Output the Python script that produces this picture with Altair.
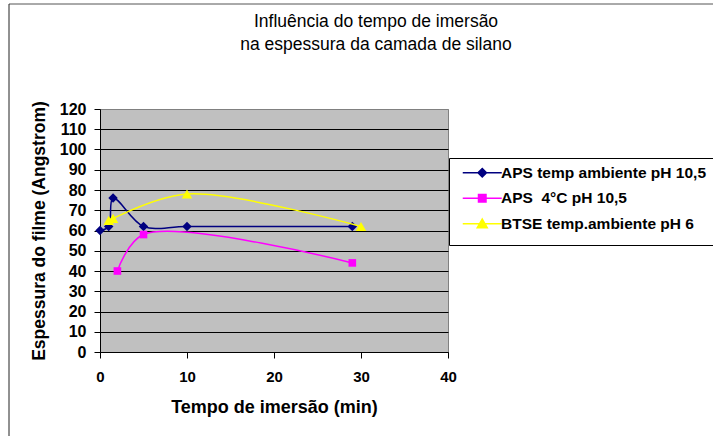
import altair as alt
import pandas as pd

# ---- data ----
series_names = ["APS temp ambiente pH 10,5", "APS\u00a0 4\u00b0C pH 10,5", "BTSE temp.ambiente pH 6"]

aps_amb_time = [0, 1, 1.5, 5, 10, 29]
aps_amb_thick = [60, 62, 76, 62, 62, 62]

aps_4c_time = [2, 5, 29]
aps_4c_thick = [40, 58, 44]

btse_time = [1, 1.5, 10, 30]
btse_thick = [65, 66, 78, 62]

x_ticks = [0, 10, 20, 30, 40]
y_ticks = list(range(0, 121, 10))

# ---- styling ----
colors = ["#000080", "#FF00FF", "#FFFF00"]
marker_shapes = ["diamond", "square", "triangle-up"]
marker_sizes = [90, 58, 110]
seg = "M-3.9,0H3.9"
legend_paths = [
    seg + "M0,-0.85L0.85,0L0,0.85L-0.85,0Z",
    seg + "M-0.75,-0.75H0.75V0.75H-0.75Z",
    seg + "M0,-0.95L1,0.8H-1Z",
]
FONT = "Liberation Sans"

rows = []
for name, xs, ys in [
    (series_names[0], aps_amb_time, aps_amb_thick),
    (series_names[1], aps_4c_time, aps_4c_thick),
    (series_names[2], btse_time, btse_thick),
]:
    for xv, yv in zip(xs, ys):
        rows.append({"time": xv, "thick": yv, "series": name})
df = pd.DataFrame(rows)

x_enc = alt.X(
    "time:Q",
    scale=alt.Scale(domain=[0, 40], nice=False, zero=False),
    axis=alt.Axis(
        values=x_ticks, title="Tempo de imersão (min)", grid=False,
        labelFont=FONT, labelFontSize=15, labelFontWeight="bold", labelColor="black",
        labelPadding=11, labelFlush=False, labelOverlap=False,
        tickSize=6, tickColor="black", domainColor="black",
        titleFont=FONT, titleFontSize=18, titleFontWeight="bold", titleColor="black",
        titlePadding=14,
    ),
)
y_enc = alt.Y(
    "thick:Q",
    scale=alt.Scale(domain=[0, 120], nice=False),
    axis=alt.Axis(
        values=y_ticks, title="Espessura do filme (Angstrom)", grid=True,
        gridColor={"condition": {"test": "datum.value >= 120", "value": "#808080"}, "value": "black"},
        gridOpacity=1, gridWidth=1,
        labelFont=FONT, labelFontSize=16, labelFontWeight="bold", labelColor="black",
        labelPadding=8, labelOverlap=False, labelBound=False,
        tickSize=6, tickColor="black", domainColor="black",
        titleFont=FONT, titleFontSize=17.5, titleFontWeight="bold", titleColor="black",
        titlePadding=11,
    ),
)

legend = alt.Legend(
    orient="none", legendX=349, legendY=49, title=" ", titleOrient="bottom",
    titleFontSize=6, titlePadding=0,
    strokeColor="black", fillColor="white", padding=7, cornerRadius=0,
    symbolSize=100, symbolOffset=18.5, symbolStrokeWidth=1.5,
    symbolFillColor="#000000",
    labelOffset=11, labelFont=FONT, labelFontSize=15.5, labelFontWeight="bold",
    labelColor="black", rowPadding=8.5, labelLimit=400,
)

base = alt.Chart(df)

line_layers = []
marker_layers = []
for name, col, shp, sz in zip(series_names, colors, marker_shapes, marker_sizes):
    sub = base.transform_filter(alt.datum.series == name)
    line_layers.append(
        sub.mark_line(interpolate="catmull-rom", strokeWidth=1.5, color=col).encode(x=x_enc, y=y_enc)
    )
    marker_layers.append(
        sub.mark_point(shape=shp, filled=True, size=sz, color=col, opacity=1).encode(x=x_enc, y=y_enc)
    )

legend_carrier = base.mark_point(filled=True, opacity=0).encode(
    x=x_enc, y=y_enc,
    fill=alt.Fill("series:N", scale=alt.Scale(domain=series_names, range=colors), legend=legend),
    stroke=alt.Stroke("series:N", scale=alt.Scale(domain=series_names, range=colors), legend=legend),
    shape=alt.Shape("series:N", scale=alt.Scale(domain=series_names, range=legend_paths), legend=legend),
)

frame_src = alt.Chart(pd.DataFrame({"k": [0]}))
frame_top = frame_src.mark_rule(color="#555555", strokeWidth=1).encode(
    x=alt.value(-91), x2=alt.value(700), y=alt.value(-105)
)
frame_left = frame_src.mark_rule(color="#222222", strokeWidth=1).encode(
    x=alt.value(-91), y=alt.value(-105), y2=alt.value(400)
)

layers = [frame_top, frame_left]
for ln, mk in zip(line_layers, marker_layers):
    layers += [ln, mk]
layers.append(legend_carrier)

chart = (
    alt.layer(*layers)
    .properties(
        width=348, height=243,
        title=alt.TitleParams(
            ["Influência do tempo de imersão", "na espessura da camada de silano"],
            anchor="middle", frame="group", dx=102, offset=-50,
            font=FONT, fontSize=17.5, fontWeight="normal", color="black", lineHeight=23,
        ),
        autosize=alt.AutoSizeParams(type="none"),
        padding={"left": 100, "top": 109, "right": 265, "bottom": 84},
        background="white",
    )
    .configure_view(fill="#C0C0C0", stroke="#808080", strokeWidth=1)
)

chart.save("out.html", embed_options={"renderer": "svg", "actions": False})
